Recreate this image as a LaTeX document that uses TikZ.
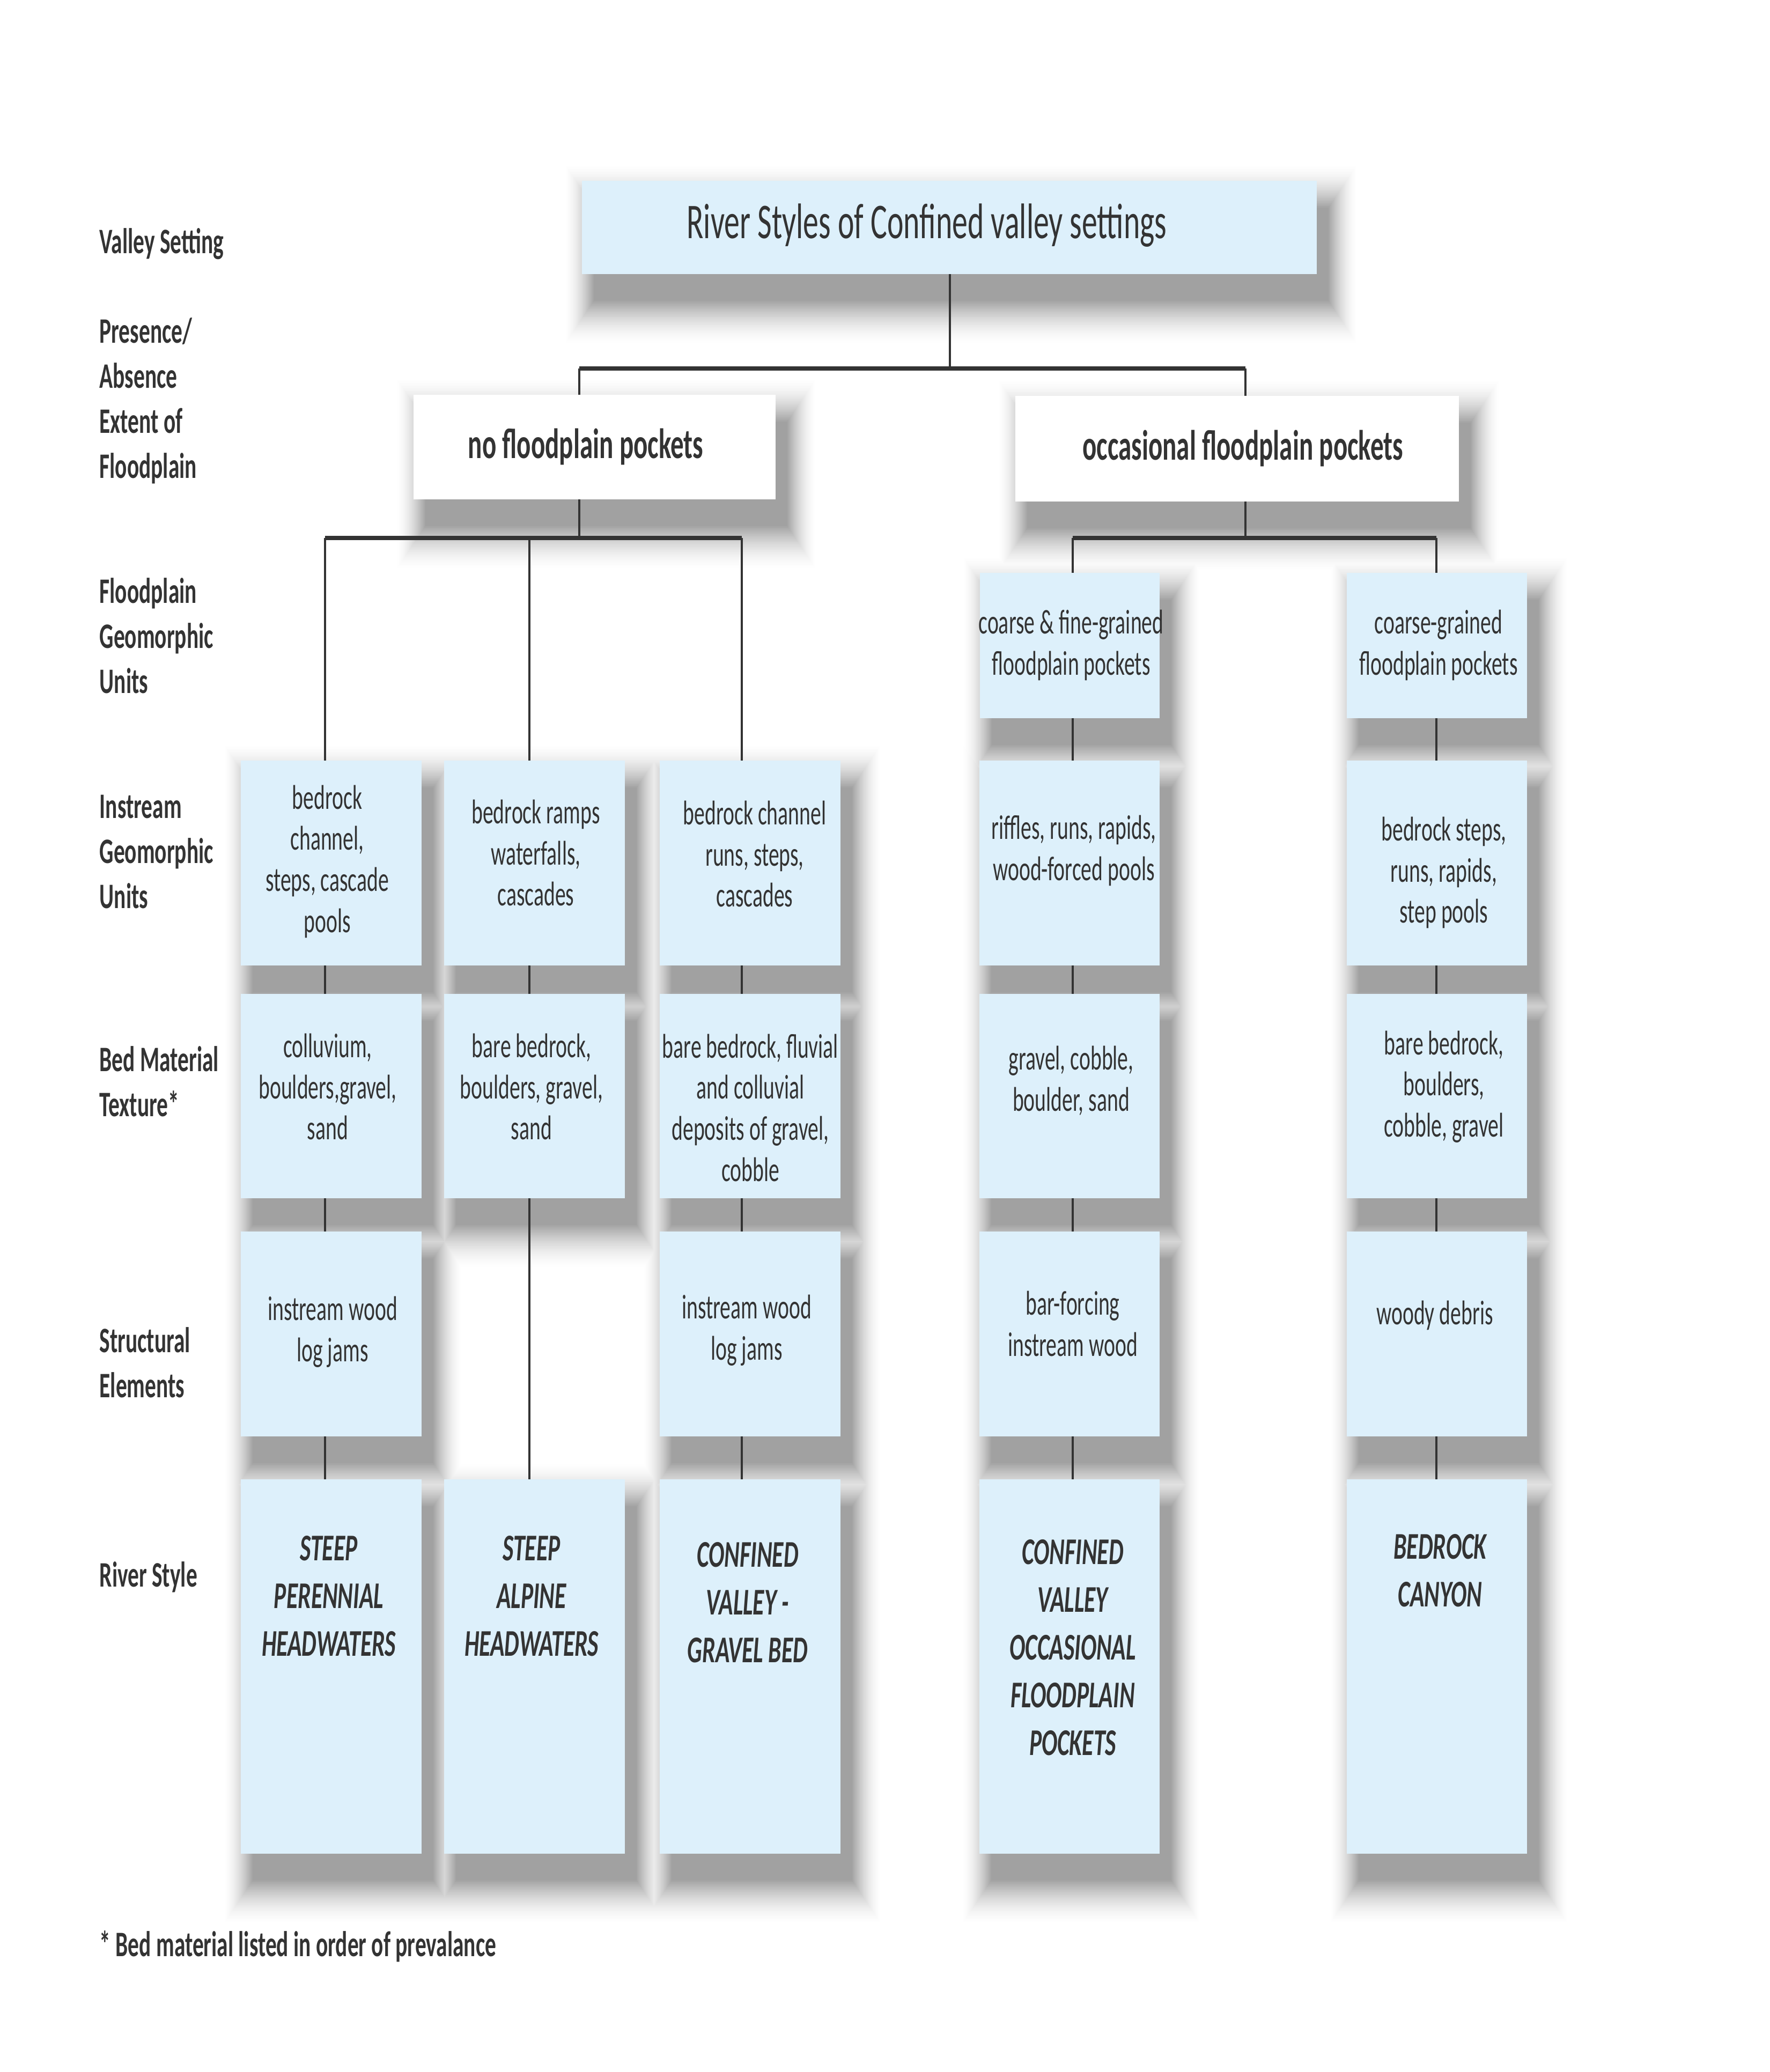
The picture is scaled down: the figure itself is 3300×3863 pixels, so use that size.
\documentclass[tikz,border=0pt]{standalone}
\usepackage{fontspec}
\setmainfont[FakeStretch=0.62]{Carlito}
\pgfdeclarelayer{bottom}
\pgfdeclarelayer{background}
\pgfdeclarelayer{lines}
\pgfsetlayers{bottom,background,lines,main}
\definecolor{boxblue}{RGB}{221,240,251}
\definecolor{ink}{RGB}{51,51,51}
\tikzset{
  box/.style={rectangle, inner sep=0pt, outer sep=0pt, draw=none},
  bt/.style={font=\fontsize{18.2pt}{21.8pt}\selectfont, align=center, text=ink, inner sep=0pt},
  lab/.style={font=\bfseries\fontsize{19pt}{23.9pt}\selectfont, align=left, anchor=west, text=ink, inner sep=0pt},
  rs/.style={font=\bfseries\itshape\fontsize{20pt}{25.3pt}\selectfont, align=center, text=ink, inner sep=0pt},
  conn/.style={line width=1.2pt, draw=ink},
  barline/.style={line width=2.1pt, draw=ink},
}
\newcommand\bx[6]{%
  \pgfmathsetmacro\bw{(#4-#2)/100}\pgfmathsetmacro\bh{(#5-#3)/100}%
  \node[box, fill=#6, minimum width=\bw cm, minimum height=\bh cm] (#1) at ({(#2+#4)/2},{(#3+#5)/2}) {};}
\begin{document}
\begin{tikzpicture}[x=0.01cm, y=-0.01cm]
\begin{pgfonlayer}{bottom}
\fill[white] (0,0) rectangle (3300,3863);
\end{pgfonlayer}
\useasboundingbox (0,0) rectangle (3300,3863);

% boxes
\bx{top}{1085}{337}{2455}{511}{boxblue}
\bx{nfp}{771}{736}{1446}{931}{white}
\bx{ofp}{1893}{738}{2720}{935}{white}
\bx{fg4}{1827}{1068}{2162}{1339}{boxblue}
\bx{fg5}{2511}{1068}{2847}{1339}{boxblue}

\bx{r1c1}{449}{1418}{786}{1800}{boxblue}
\bx{r1c2}{828}{1418}{1165}{1800}{boxblue}
\bx{r1c3}{1230}{1418}{1567}{1800}{boxblue}
\bx{r1c4}{1826}{1418}{2162}{1800}{boxblue}
\bx{r1c5}{2511}{1418}{2847}{1800}{boxblue}

\bx{r2c1}{449}{1853}{786}{2234}{boxblue}
\bx{r2c2}{828}{1853}{1165}{2234}{boxblue}
\bx{r2c3}{1230}{1853}{1567}{2234}{boxblue}
\bx{r2c4}{1826}{1853}{2162}{2234}{boxblue}
\bx{r2c5}{2511}{1853}{2847}{2234}{boxblue}

\bx{r3c1}{449}{2296}{786}{2678}{boxblue}
\bx{r3c3}{1230}{2296}{1567}{2678}{boxblue}
\bx{r3c4}{1826}{2296}{2162}{2678}{boxblue}
\bx{r3c5}{2511}{2296}{2847}{2678}{boxblue}

\bx{r4c1}{449}{2758}{786}{3456}{boxblue}
\bx{r4c2}{828}{2758}{1165}{3456}{boxblue}
\bx{r4c3}{1230}{2758}{1567}{3456}{boxblue}
\bx{r4c4}{1826}{2758}{2162}{3456}{boxblue}
\bx{r4c5}{2511}{2758}{2847}{3456}{boxblue}

% soft drop shadows (opaque rings, outer to inner)
\begin{pgfonlayer}{background}
\foreach \k in {27,...,0} {
  \pgfmathsetmacro\dk{37*(1-\k/28)^1.7}
  \foreach \n in {top,nfp,ofp,fg4,fg5,r1c1,r1c2,r1c3,r1c4,r1c5,r2c1,r2c2,r2c3,r2c4,r2c5,r3c1,r3c3,r3c4,r3c5,r4c1,r4c2,r4c3,r4c4,r4c5} {
    \fill[black!\dk] ([shift={(22-2.0*\k,50+3.0*\k)}]\n.south west) rectangle ([shift={(22+2.0*\k,50-3.0*\k)}]\n.north east);
  }
}
\end{pgfonlayer}

% connector coordinates
\coordinate (B1) at (0,687);
\coordinate (B2) at (0,1003);
\coordinate (L0) at (1771,0);
\coordinate (La) at (1080,0);
\coordinate (Lb) at (2322,0);
\coordinate (L1) at (606,0);
\coordinate (L2) at (987,0);
\coordinate (L3) at (1383,0);
\coordinate (L4) at (2000,0);
\coordinate (L5) at (2678,0);

\begin{pgfonlayer}{lines}
\draw[conn] (top.south -| L0) -- (L0 |- B1);
\draw[barline] (La |- B1) -- (Lb |- B1);
\draw[conn] (La |- B1) -- (La |- B2);
\draw[conn] (Lb |- B1) -- (Lb |- B2);
\draw[barline] (L1 |- B2) -- (L3 |- B2);
\draw[barline] (L4 |- B2) -- (L5 |- B2);
\draw[conn] (L1 |- B2) -- (L1 |- r4c1.north);
\draw[conn] (L2 |- B2) -- (L2 |- r4c2.north);
\draw[conn] (L3 |- B2) -- (L3 |- r4c3.north);
\draw[conn] (L4 |- B2) -- (L4 |- r4c4.north);
\draw[conn] (L5 |- B2) -- (L5 |- r4c5.north);
\end{pgfonlayer}

% texts in boxes
\node[bt, font=\fontsize{26.5pt}{32pt}\selectfont] (ttop) at (1728,420) {River Styles of Confined valley settings};
\node[bt, font=\bfseries\fontsize{22.5pt}{26pt}\selectfont] (tnfp) at (1092,833) {no floodplain pockets};
\node[bt, font=\bfseries\fontsize{22.5pt}{26pt}\selectfont] (tofp) at (2317,836) {occasional floodplain pockets};

\node[bt] (tfg4) at (1997,1203) {coarse \& fine-grained\\floodplain pockets};
\node[bt] (tfg5) at (2682,1203) {coarse-grained\\floodplain pockets};

\node[bt] (t11) at (610,1606) {bedrock\\channel,\\steps, cascade\\pools};
\node[bt] (t12) at (999,1590) {bedrock ramps\\waterfalls,\\cascades};
\node[bt] (t13) at (1407,1592) {bedrock channel\\runs, steps,\\cascades};
\node[bt] (t14) at (2002,1586) {riffles, runs, rapids,\\wood-forced pools};
\node[bt] (t15) at (2692,1627) {bedrock steps,\\runs, rapids,\\step pools};

\node[bt] (t21) at (611,2026) {colluvium,\\boulders,gravel,\\sand};
\node[bt] (t22) at (991,2026) {bare bedrock,\\boulders, gravel,\\sand};
\node[bt] (t23) at (1399,2065) {bare bedrock, fluvial\\and colluvial\\deposits of gravel,\\cobble};
\node[bt] (t24) at (1997,2015) {gravel, cobble,\\boulder, sand};
\node[bt] (t25) at (2692,2026) {bare bedrock,\\boulders,\\cobble, gravel};

\node[bt] (t31) at (620,2483) {instream wood\\log jams};
\node[bt] (t33) at (1392,2480) {instream wood\\log jams};
\node[bt] (t34) at (2000,2468) {bar-forcing\\instream wood};
\node[bt] (t35) at (2675,2452) {woody debris};

\node[rs] (t41) at (613,2976) {STEEP\\PERENNIAL\\HEADWATERS};
\node[rs] (t42) at (991,2976) {STEEP\\ALPINE\\HEADWATERS};
\node[rs] (t43) at (1394,2988) {CONFINED\\VALLEY -\\GRAVEL BED};
\node[rs] (t44) at (2000,3072) {CONFINED\\VALLEY\\OCCASIONAL\\FLOODPLAIN\\POCKETS};
\node[rs] (t45) at (2685,2928) {BEDROCK\\CANYON};

% left labels
\node[lab] (l1) at (185,455) {Valley Setting};
\node[lab] (l2) at (185,747) {Presence/\\Absence\\Extent of\\Floodplain};
\node[lab] (l3) at (185,1185) {Floodplain\\Geomorphic\\Units};
\node[lab] (l4) at (185,1588) {Instream\\Geomorphic\\Units};
\node[lab] (l5) at (185,2016) {Bed Material\\Texture*};
\node[lab] (l6) at (185,2540) {Structural\\Elements};
\node[lab] (l7) at (185,2940) {River Style};
\node[lab] (fn) at (185,3629) {* Bed material listed in order of prevalance};
\end{tikzpicture}
\end{document}
